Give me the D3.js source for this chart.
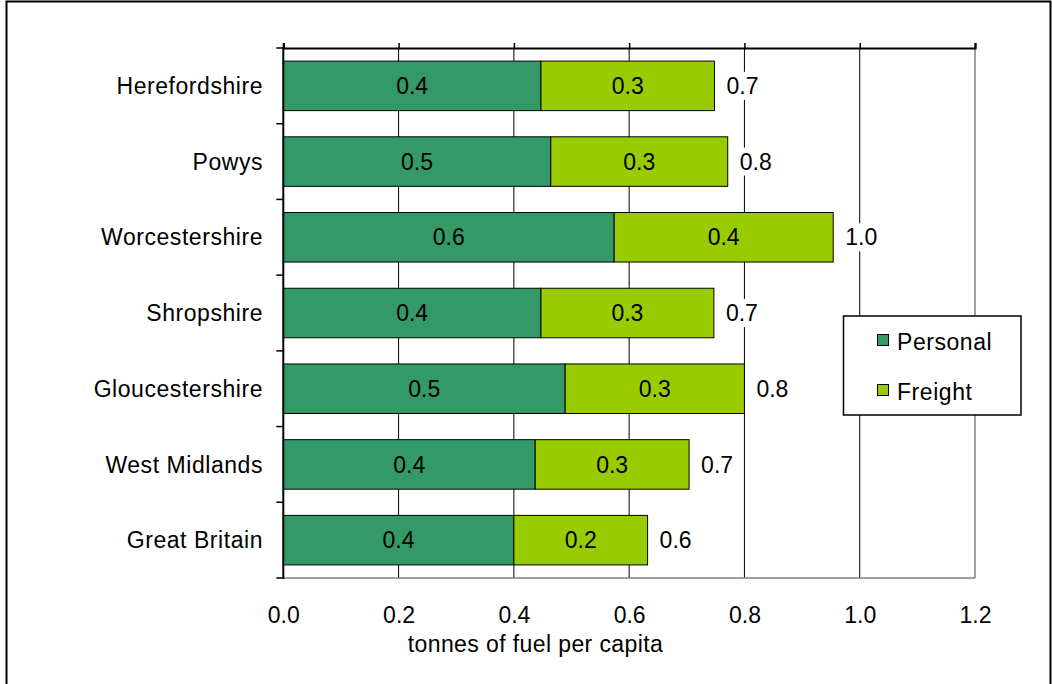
<!DOCTYPE html>
<html>
<head>
<meta charset="utf-8">
<script src="https://cdn.jsdelivr.net/npm/d3@7"></script>
<style>
  html, body { margin: 0; padding: 0; background: #fff; }
  svg { display: block; font-family: "Liberation Sans", Arial, sans-serif; }
</style>
</head>
<body>
<svg id="chart" width="1052" height="684"></svg>
<script>
// Road transport fuel use, tonnes of fuel per capita
const categories = ["Herefordshire", "Powys", "Worcestershire", "Shropshire", "Gloucestershire", "West Midlands", "Great Britain"];
const personal = [0.447, 0.464, 0.574, 0.447, 0.489, 0.437, 0.400];
const freight  = [0.301, 0.307, 0.380, 0.300, 0.311, 0.267, 0.232];
const seriesNames = ["Personal", "Freight"];
const xTicks = [0.0, 0.2, 0.4, 0.6, 0.8, 1.0, 1.2];
const axisTitle = "tonnes of fuel per capita";

const colors = { Personal: "#339966", Freight: "#99cc00" };

const svg = d3.select("#chart");
const plotLeft = 283.3, plotRight = 975, plotTop = 48, plotBottom = 578;

const x = d3.scaleLinear().domain([0, 1.2]).range([plotLeft, plotRight]);
const y = d3.scaleBand().domain(categories).range([plotTop, plotBottom])
  .paddingInner(0.346).paddingOuter(0.173);

// outer frame
svg.append("path")
  .attr("d", `M6.5,690 V1.5 H1050.5 V690`)
  .attr("fill", "none").attr("stroke", "#000").attr("stroke-width", 2);

// vertical gridlines
svg.append("g").selectAll("line").data(xTicks.slice(1, -1)).join("line")
  .attr("x1", d => x(d)).attr("x2", d => x(d))
  .attr("y1", plotTop).attr("y2", plotBottom)
  .attr("stroke", "#000").attr("stroke-width", 1);

// right and bottom edges of the plot area
svg.append("line").attr("x1", plotRight).attr("x2", plotRight).attr("y1", plotTop).attr("y2", plotBottom)
  .attr("stroke", "#808080").attr("stroke-width", 1.5);
svg.append("line").attr("x1", plotLeft).attr("x2", plotRight).attr("y1", plotBottom).attr("y2", plotBottom)
  .attr("stroke", "#808080").attr("stroke-width", 1.5);

// top axis line with upward ticks
const topAxis = d3.axisTop(x).tickValues(xTicks).tickSize(5).tickFormat("");
const gTop = svg.append("g").attr("transform", `translate(0,${plotTop})`).call(topAxis);
gTop.select(".domain").attr("stroke", "#000").attr("stroke-width", 2.2);
gTop.selectAll(".tick line").attr("stroke", "#000").attr("stroke-width", 1.5);

// bottom tick labels (no tick marks)
const bottomAxis = d3.axisBottom(x).tickValues(xTicks).tickSize(0).tickPadding(0).tickFormat(d3.format(".1f"));
const gBot = svg.append("g").attr("transform", `translate(0,${plotBottom})`).call(bottomAxis);
gBot.select(".domain").remove();
gBot.selectAll("text").attr("dy", null).attr("y", 45)
  .attr("font-size", 23).attr("font-family", "Liberation Sans, Arial, sans-serif").attr("fill", "#000");

// axis title
svg.append("text").attr("x", 535.5).attr("y", 652).attr("text-anchor", "middle")
  .attr("font-size", 23).attr("letter-spacing", 0.4).text(axisTitle);

// stacked bars
const rows = categories.map((c, i) => ({ cat: c, Personal: personal[i], Freight: freight[i] }));
const stack = d3.stack().keys(seriesNames)(rows);

const layers = svg.append("g").selectAll("g").data(stack).join("g")
  .attr("fill", d => colors[d.key]);
layers.selectAll("rect").data(d => d).join("rect")
  .attr("x", d => x(d[0]))
  .attr("y", d => y(d.data.cat))
  .attr("width", d => x(d[1]) - x(d[0]))
  .attr("height", y.bandwidth())
  .attr("stroke", "#000").attr("stroke-width", 1);

// segment value labels
layers.selectAll("text").data(d => d).join("text")
  .attr("x", d => (x(d[0]) + x(d[1])) / 2)
  .attr("y", d => y(d.data.cat) + y.bandwidth() / 2 + 8.2)
  .attr("text-anchor", "middle").attr("font-size", 23).attr("fill", "#000")
  .text(d => (d[1] - d[0]).toFixed(1));

// y axis line with outward ticks at band edges
const bandEdges = categories.map(c => y(c) - y.step() * y.paddingInner() / 2).concat([plotBottom]);
svg.append("g").selectAll("line").data(bandEdges).join("line")
  .attr("x1", plotLeft - 7).attr("x2", plotLeft).attr("y1", d => d).attr("y2", d => d)
  .attr("stroke", "#000").attr("stroke-width", 1.5);
svg.append("line").attr("x1", plotLeft).attr("x2", plotLeft).attr("y1", plotTop - 1).attr("y2", plotBottom + 1)
  .attr("stroke", "#000").attr("stroke-width", 2);

// category labels
svg.append("g").selectAll("text").data(categories).join("text")
  .attr("x", 263).attr("y", d => y(d) + y.bandwidth() / 2 + 8.2)
  .attr("text-anchor", "end").attr("font-size", 23).attr("letter-spacing", 0.55)
  .text(d => d);

// total labels with white backing
const totals = rows.map(r => ({ cat: r.cat, total: r.Personal + r.Freight }));
const tg = svg.append("g").selectAll("g").data(totals).join("g")
  .attr("transform", d => `translate(${x(d.total) + 12},${y(d.cat) + y.bandwidth() / 2})`);
tg.append("rect").attr("x", -2).attr("y", -14).attr("width", 36).attr("height", 28).attr("fill", "#fff");
tg.append("text").attr("y", 8.2).attr("font-size", 23).text(d => d.total.toFixed(1));

// legend
const lg = svg.append("g");
lg.append("rect").attr("x", 843.5).attr("y", 316).attr("width", 177.5).attr("height", 99)
  .attr("fill", "#fff").attr("stroke", "#000").attr("stroke-width", 1.5);
const items = lg.selectAll("g").data(seriesNames).join("g")
  .attr("transform", (d, i) => `translate(877,${334 + i * 50})`);
items.append("rect").attr("x", 0.5).attr("y", 0.5).attr("width", 11).attr("height", 11)
  .attr("fill", d => colors[d]).attr("stroke", "#000").attr("stroke-width", 1);
items.append("text").attr("x", 20).attr("y", 16).attr("font-size", 23).attr("letter-spacing", 0.55)
  .text(d => d);
</script>
</body>
</html>
